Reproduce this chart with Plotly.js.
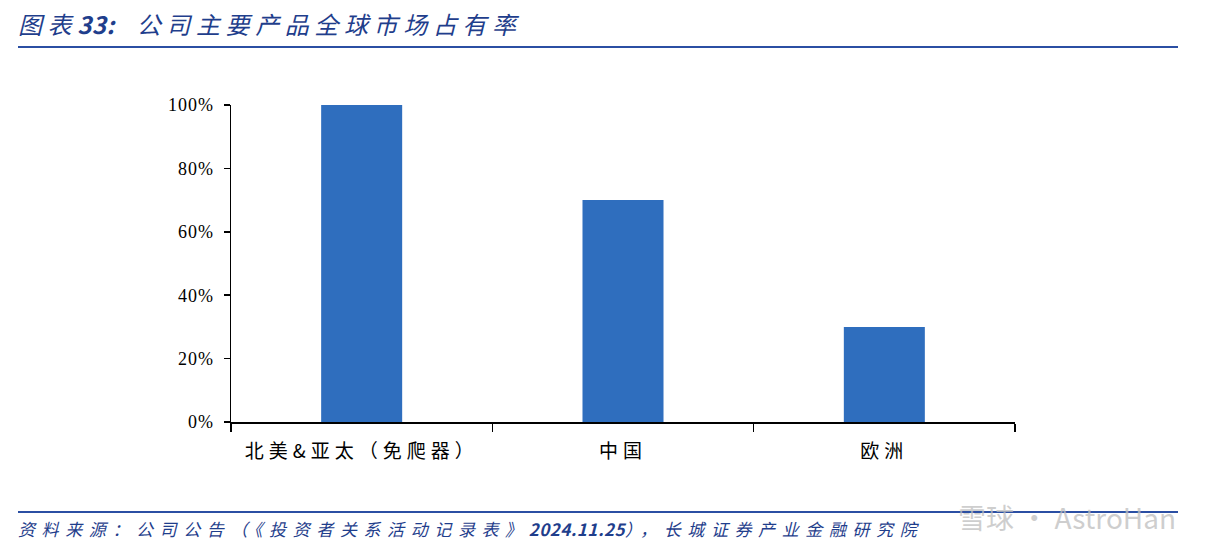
<!DOCTYPE html>
<html><head><meta charset="utf-8">
<script src="https://cdn.plot.ly/plotly-3.0.1.min.js"></script>
<style>body{margin:0;background:#fff}#c{width:1212px;height:554px}</style>
</head><body><div id="c"></div>
<script>
const categories = ['北美&亚太（免爬器）', '中国', '欧洲'];
const shareValues = [1.00, 0.70, 0.30];
const tickVals = [0, 0.2, 0.4, 0.6, 0.8, 1.0];
const tickLabels = ['0%', '20%', '40%', '60%', '80%', '100%'];
const titleText = '图表<b>33:</b>  公司主要产品全球市场占有率';
const sourceText = '资料来源：公司公告（《投资者关系活动记录表》<b>2024.11.25</b>），长城证券产业金融研究院';

const cjk = '"Noto Sans CJK SC", "Noto Sans", sans-serif';
const blue = '#1F3E8C';

Plotly.newPlot('c', [{
  type: 'bar', x: categories, y: shareValues,
  marker: {color: '#2F6EBE'}, hoverinfo: 'skip'
}], {
  width: 1212, height: 554,
  margin: {l: 231, r: 197, t: 105, b: 132},
  paper_bgcolor: '#fff', plot_bgcolor: '#fff',
  bargap: 0.69,
  showlegend: false,
  xaxis: {
    showline: true, linecolor: '#000', linewidth: 1.5,
    ticks: 'outside', ticklen: 8, tickcolor: '#000', tickwidth: 1.5,
    tickson: 'boundaries', showgrid: false, ticklabelstandoff: 12,
    tickfont: {family: cjk, size: 19, color: '#000'}
  },
  yaxis: {
    range: [0, 1.0], tickvals: tickVals, ticktext: tickLabels,
    showline: true, linecolor: '#000', linewidth: 1.5,
    ticks: 'outside', ticklen: 6, tickcolor: '#000', tickwidth: 1.5,
    showgrid: false, zeroline: false, ticklabelstandoff: 6,
    tickfont: {family: '"Liberation Serif", "DejaVu Serif", serif', size: 18, color: '#000'}
  },
  shapes: [
    {type: 'line', xref: 'paper', yref: 'paper', x0: -213/784, x1: (1178-231)/784, y0: (554-47-132)/317, y1: (554-47-132)/317, line: {color: '#2B4FA3', width: 2}},
    {type: 'line', xref: 'paper', yref: 'paper', x0: -213/784, x1: (1178-231)/784, y0: (554-512-132)/317, y1: (554-512-132)/317, line: {color: '#2B4FA3', width: 2}}
  ],
  annotations: [
    {text: titleText, xref: 'paper', yref: 'paper', x: -213/784, y: (554-23-132)/317, xanchor: 'left', yanchor: 'middle', showarrow: false,
     font: {family: cjk, size: 24, color: blue, style: 'italic'}},
    {text: sourceText, xref: 'paper', yref: 'paper', x: -213/784, y: (554-528-132)/317, xanchor: 'left', yanchor: 'middle', showarrow: false,
     font: {family: cjk, size: 17, color: blue, style: 'italic'}},
    {text: '雪球 · AstroHan', xref: 'paper', yref: 'paper', x: (1178-231)/784, y: (554-517-132)/317, xanchor: 'right', yanchor: 'middle', showarrow: false,
     font: {family: cjk, size: 28, color: 'rgba(190,190,190,0.75)'}}
  ]
}, {staticPlot: true}).then(function(gd){
  const setLS = (sel, v) => gd.querySelectorAll(sel).forEach(t => t.setAttribute('letter-spacing', v));
  setLS('.xtick text', '5px');
  setLS('.ytick text', '1px');
  const ann = gd.querySelectorAll('.annotation-text');
  const fix = (el, ls, left) => {
    if (!el) return;
    el.setAttribute('letter-spacing', ls);
    el.querySelectorAll('tspan').forEach(ts => {
      if ((ts.getAttribute('style') || '').indexOf('bold') >= 0) ts.setAttribute('letter-spacing', '0.5px');
    });
    const r = el.getBoundingClientRect();
    el.setAttribute('transform', 'translate(' + (left - r.left) + ',0)');
  };
  fix(ann[0], '5.6px', 18);
  fix(ann[1], '6.6px', 18);
});
</script></body></html>
